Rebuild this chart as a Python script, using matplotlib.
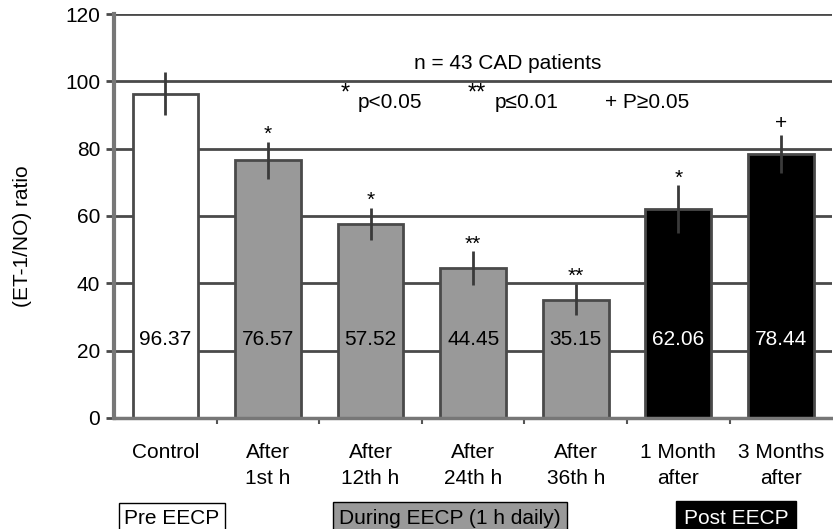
import matplotlib
matplotlib.use("Agg")
import matplotlib.pyplot as plt
import numpy as np

categories = ["Control", "After\n1st h", "After\n12th h", "After\n24th h", "After\n36th h", "1 Month\nafter", "3 Months\nafter"]
values = [96.37, 76.57, 57.52, 44.45, 35.15, 62.06, 78.44]
errors = [6.4, 5.5, 4.8, 5.0, 4.7, 7.0, 5.6]
marks = ["", "*", "*", "**", "**", "*", "+"]
fills = ["white", "#999999", "#999999", "#999999", "#999999", "black", "black"]
label_colors = ["black", "black", "black", "black", "black", "white", "white"]
yticks = [0, 20, 40, 60, 80, 100, 120]

plt.rcParams['font.family'] = ['Liberation Sans', 'DejaVu Sans']
FS = 15

fig = plt.figure(figsize=(8.33, 5.29), dpi=100)
ax = fig.add_axes([0.137, 0.210, 0.862, 0.7635])

x = np.arange(len(categories))
ax.set_xlim(-0.5, len(categories) - 0.5)
ax.set_ylim(0, 120)

for yv in yticks[1:]:
    ax.axhline(yv, color="#4a4a4a", lw=2, zorder=0)

ax.bar(x, values, width=0.64, color=fills, edgecolor="#4a4a4a", linewidth=2, zorder=2)
ax.errorbar(x, values, yerr=errors, fmt="none", ecolor="#3a3a3a", elinewidth=2, capsize=0, zorder=3)

for i, v in enumerate(values):
    ax.text(x[i], 23.2, f"{v:.2f}", ha="center", va="center", fontsize=FS, color=label_colors[i], zorder=4)
    if marks[i]:
        off = 1.8 if marks[i] == "+" else 0.6
        ax.text(x[i], v + errors[i] + off, marks[i], ha="center", va="baseline", fontsize=FS, zorder=4)

ax.text(3.34, 105.4, "n = 43 CAD patients", ha="center", va="center", fontsize=FS)
ax.text(1.75, 94.5, "*", ha="center", va="baseline", fontsize=FS + 2)
ax.text(1.878, 93.6, "p<0.05", ha="left", va="center", fontsize=FS)
ax.text(3.04, 94.5, "**", ha="center", va="baseline", fontsize=FS + 2)
ax.text(3.213, 93.6, "p≤0.01", ha="left", va="center", fontsize=FS)
ax.text(4.286, 93.6, "+ P≥0.05", ha="left", va="center", fontsize=FS)

ax.set_xticks(x)
ax.set_xticklabels(categories, fontsize=FS, linespacing=1.45)
ax.tick_params(axis="x", length=0, pad=18)
ax.set_xticks(x[:-1] + 0.5, minor=True)
ax.tick_params(axis="x", which="minor", length=4, width=1.5, color="#555555", direction="out")

ax.set_yticks(yticks)
ax.set_yticklabels([str(t) for t in yticks], fontsize=FS)
ax.tick_params(axis="y", length=6, width=2, color="#4a4a4a", pad=4)

ax.set_ylabel("(ET-1/NO) ratio", fontsize=FS)
ax.yaxis.set_label_coords(-0.114, 0.45)

for s in ["top", "right"]:
    ax.spines[s].set_visible(False)
ax.spines["left"].set_color("#777777")
ax.spines["left"].set_linewidth(3)
ax.spines["bottom"].set_color("#777777")
ax.spines["bottom"].set_linewidth(2.5)

fig.text(172 / 833, 1 - 518 / 529, "Pre EECP", ha="center", va="center", fontsize=FS,
         bbox=dict(boxstyle="square,pad=0.28", facecolor="white", edgecolor="black", lw=1))
fig.text(450 / 833, 1 - 518 / 529, "During EECP (1 h daily)", ha="center", va="center", fontsize=FS,
         bbox=dict(boxstyle="square,pad=0.3", facecolor="#999999", edgecolor="black", lw=1))
fig.text(736 / 833, 1 - 518 / 529, "Post EECP", ha="center", va="center", fontsize=FS, color="white",
         bbox=dict(boxstyle="square,pad=0.35", facecolor="black", edgecolor="black", lw=1))

fig.savefig("out.png", dpi=100)
